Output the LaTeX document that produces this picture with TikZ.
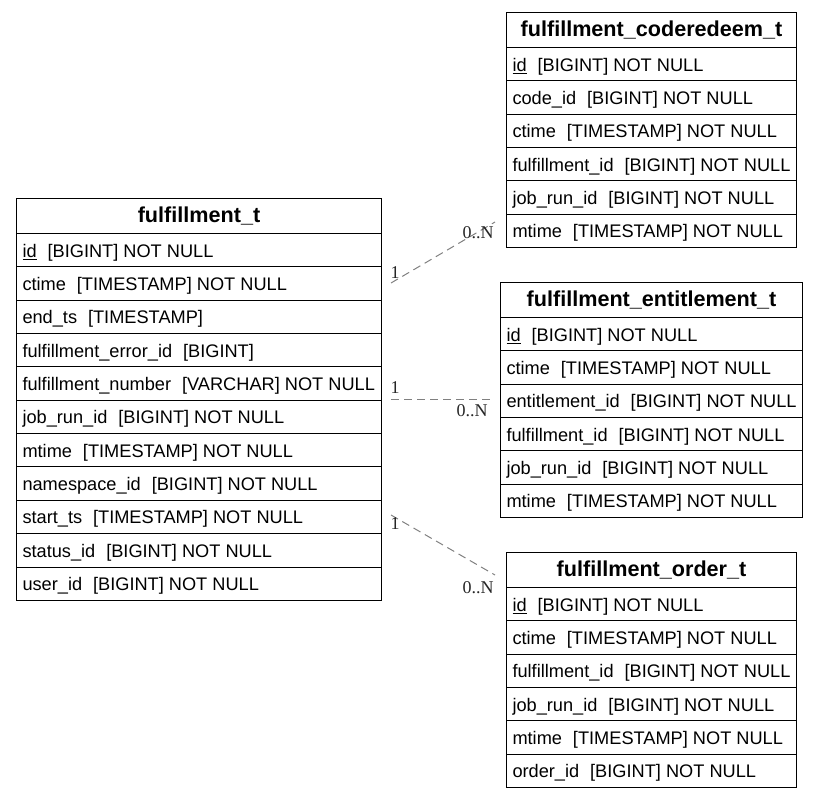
\documentclass[tikz,border=0pt]{standalone}
\usepackage{fontspec}
\setmainfont{Liberation Sans}
\newfontfamily\seriffont{Liberation Serif}
\newcommand{\gp}{\hspace{0.6em}}
\begin{document}
\begin{tikzpicture}[x=1pt,y=-1pt,
  hdr/.style={draw=black,line width=1pt,rectangle,minimum height=35pt,inner sep=0pt,text height=16pt,text depth=3pt,font=\fontsize{21.6}{24}\selectfont\bfseries},
  rowbox/.style={draw=black,line width=1pt,rectangle,minimum height=33.35pt,inner xsep=6pt,inner ysep=0pt,text height=16pt,text depth=2pt,font=\fontsize{18.2}{20}\selectfont},
  card/.style={font=\seriffont\fontsize{18}{20}\selectfont,inner sep=0pt,text=black!85},
  rel/.style={draw=black!50,line width=1pt,dash pattern=on 8pt off 5pt}]
\useasboundingbox (0,0) rectangle (818,798);
% #1 name #2 x #3 ytop #4 width #5 inner width #6 header #7 rows
\newcommand{\ertable}[7]{%
  \node[hdr,minimum width=#4pt,anchor=north west] (#1-h) at (#2,#3) {#6};
  \foreach \t [count=\i] in {#7} {
    \node[rowbox,anchor=north west] (#1-\i) at (#2,{#3+35+(\i-1)*33.35}) {\makebox[#5pt][l]{\t}};
  }
}
\ertable{ft}{16}{198}{365}{353}{fulfillment\_t}{{\underline{id}\gp[BIGINT] NOT NULL},{ctime\gp[TIMESTAMP] NOT NULL},{end\_ts\gp[TIMESTAMP]},{fulfillment\_error\_id\gp[BIGINT]},{fulfillment\_number\gp[VARCHAR] NOT NULL},{job\_run\_id\gp[BIGINT] NOT NULL},{mtime\gp[TIMESTAMP] NOT NULL},{namespace\_id\gp[BIGINT] NOT NULL},{start\_ts\gp[TIMESTAMP] NOT NULL},{status\_id\gp[BIGINT] NOT NULL},{user\_id\gp[BIGINT] NOT NULL}}
\ertable{cr}{506}{12}{290}{278}{fulfillment\_coderedeem\_t}{{\underline{id}\gp[BIGINT] NOT NULL},{code\_id\gp[BIGINT] NOT NULL},{ctime\gp[TIMESTAMP] NOT NULL},{fulfillment\_id\gp[BIGINT] NOT NULL},{job\_run\_id\gp[BIGINT] NOT NULL},{mtime\gp[TIMESTAMP] NOT NULL}}
\ertable{en}{500}{282}{302}{290}{fulfillment\_entitlement\_t}{{\underline{id}\gp[BIGINT] NOT NULL},{ctime\gp[TIMESTAMP] NOT NULL},{entitlement\_id\gp[BIGINT] NOT NULL},{fulfillment\_id\gp[BIGINT] NOT NULL},{job\_run\_id\gp[BIGINT] NOT NULL},{mtime\gp[TIMESTAMP] NOT NULL}}
\ertable{or}{506}{552}{290}{278}{fulfillment\_order\_t}{{\underline{id}\gp[BIGINT] NOT NULL},{ctime\gp[TIMESTAMP] NOT NULL},{fulfillment\_id\gp[BIGINT] NOT NULL},{job\_run\_id\gp[BIGINT] NOT NULL},{mtime\gp[TIMESTAMP] NOT NULL},{order\_id\gp[BIGINT] NOT NULL}}
% connector ends
\coordinate (a1) at (391,283);
\coordinate (b1) at (495,222);
\coordinate (a2) at (391,399);
\coordinate (b2) at (490,399);
\coordinate (a3) at (391,515);
\coordinate (b3) at (495,575);
\draw[rel] (a1) -- (b1);
\draw[rel] (a2) -- (b2);
\draw[rel] (a3) -- (b3);
\node[card] (l1a) at (395,273) {1};
\node[card] (l1b) at (478,233) {0..N};
\node[card] (l2a) at (395,388) {1};
\node[card] (l2b) at (472,411) {0..N};
\node[card] (l3a) at (395,524) {1};
\node[card] (l3b) at (478,588) {0..N};
\end{tikzpicture}
\end{document}
